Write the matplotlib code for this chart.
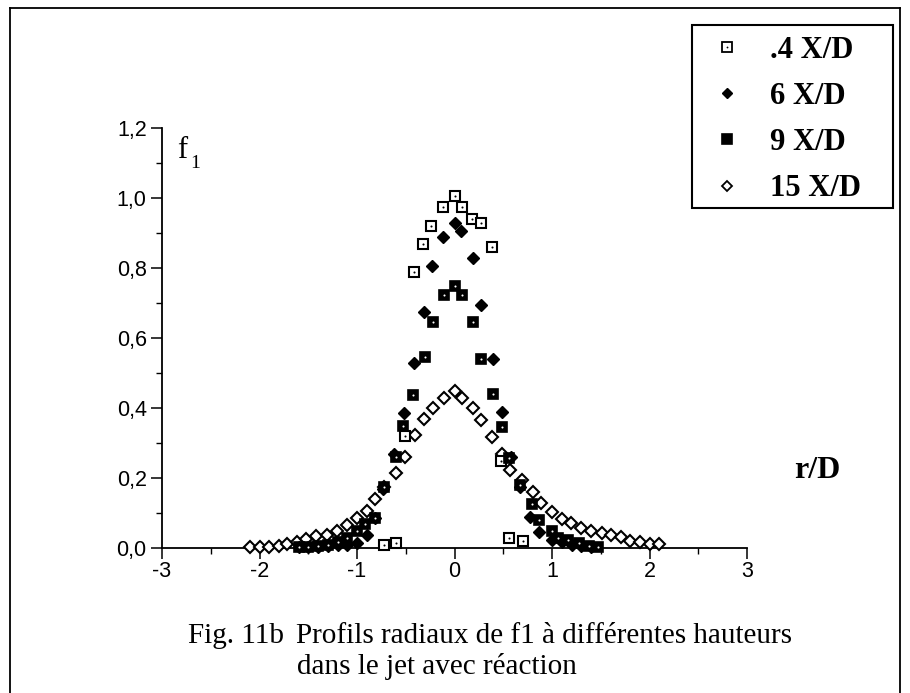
import matplotlib
matplotlib.use("Agg")
import matplotlib.pyplot as plt
from matplotlib.lines import Line2D
from matplotlib.patches import Rectangle
from matplotlib.ticker import MultipleLocator, FuncFormatter

# ---- data ----
x_04 = [-0.72, -0.60, -0.51, -0.42, -0.32, -0.24, -0.12, 0.00, 0.08, 0.18, 0.27, 0.38, 0.48, 0.56, 0.70]
y_04 = [0.010, 0.015, 0.320, 0.790, 0.870, 0.920, 0.975, 1.005, 0.975, 0.940, 0.930, 0.860, 0.250, 0.030, 0.020]

x_6 = [-1.60, -1.50, -1.40, -1.30, -1.20, -1.10, -1.00, -0.90, -0.82, -0.73, -0.62, -0.52, -0.42, -0.31, -0.23,
       -0.12, 0.00, 0.07, 0.19, 0.27, 0.39, 0.49, 0.58, 0.67, 0.77, 0.87, 1.00, 1.10, 1.20, 1.30, 1.40]
y_6 = [0.002, 0.003, 0.004, 0.006, 0.008, 0.010, 0.013, 0.037, 0.085, 0.170, 0.270, 0.385, 0.530, 0.675, 0.806,
       0.890, 0.930, 0.906, 0.830, 0.694, 0.540, 0.390, 0.260, 0.175, 0.090, 0.046, 0.023, 0.017, 0.010, 0.005, 0.003]

x_9 = [-1.60, -1.50, -1.40, -1.30, -1.20, -1.10, -1.00, -0.92, -0.82, -0.72, -0.60, -0.53, -0.43, -0.30, -0.22,
       -0.11, 0.00, 0.08, 0.19, 0.27, 0.39, 0.49, 0.56, 0.67, 0.79, 0.87, 1.00, 1.06, 1.16, 1.28, 1.38, 1.47]
y_9 = [0.003, 0.004, 0.006, 0.010, 0.016, 0.028, 0.050, 0.070, 0.085, 0.175, 0.260, 0.350, 0.437, 0.546, 0.645,
       0.723, 0.750, 0.723, 0.645, 0.540, 0.440, 0.345, 0.257, 0.180, 0.126, 0.080, 0.050, 0.030, 0.023, 0.014, 0.006, 0.004]

x_15 = [-2.10, -2.00, -1.90, -1.80, -1.72, -1.62, -1.52, -1.42, -1.31, -1.21, -1.10, -1.00, -0.90, -0.82, -0.72,
        -0.60, -0.51, -0.41, -0.31, -0.22, -0.11, 0.00, 0.08, 0.19, 0.27, 0.38, 0.49, 0.57, 0.69, 0.80, 0.89,
        1.00, 1.10, 1.19, 1.30, 1.40, 1.51, 1.61, 1.71, 1.80, 1.90, 2.00, 2.10]
y_15 = [0.003, 0.003, 0.003, 0.005, 0.012, 0.018, 0.026, 0.033, 0.038, 0.050, 0.066, 0.086, 0.105, 0.140, 0.175,
        0.214, 0.260, 0.323, 0.370, 0.400, 0.430, 0.448, 0.430, 0.400, 0.366, 0.317, 0.270, 0.223, 0.194, 0.160, 0.130,
        0.103, 0.083, 0.071, 0.057, 0.049, 0.043, 0.037, 0.031, 0.020, 0.017, 0.011, 0.011]

labels = [".4 X/D", "6 X/D", "9 X/D", "15 X/D"]
caption_fig = "Fig. 11b"
caption_1 = "Profils radiaux de f1 à différentes hauteurs"
caption_2 = "dans le jet avec réaction"

W, H = 910, 693
fig = plt.figure(figsize=(W / 100, H / 100), dpi=100)
fig.patch.set_facecolor("white")

def fx(px):
    return px / W

def fy(py):
    return 1 - py / H

ax = fig.add_axes([fx(162), fy(548), (747 - 162) / W, 420 / H])
ax.set_xlim(-3, 3)
ax.set_ylim(0, 1.2)
for s in ("top", "right"):
    ax.spines[s].set_visible(False)
for s in ("left", "bottom"):
    ax.spines[s].set_linewidth(1.3)

sq = 7.5
st04 = dict(ls="none", marker="s", mfc="white", mec="black", mew=1.5)
st04d = dict(ls="none", marker="o", mfc="black", mec="none")
st6 = dict(ls="none", marker="D", mfc="black", mec="black", mew=1.0)
st9 = dict(ls="none", marker="s", mfc="black", mec="black", mew=1.2)
st9d = dict(ls="none", marker="o", mfc="white", mec="none")
st15 = dict(ls="none", marker="D", mfc="white", mec="black", mew=1.5)

ax.plot(x_15, y_15, ms=6.5, clip_on=False, zorder=3, **st15)
ax.plot(x_04, y_04, ms=sq, clip_on=False, zorder=4, **st04)
ax.plot(x_04, y_04, ms=1.5, clip_on=False, zorder=5, **st04d)
ax.plot(x_9, y_9, ms=sq, clip_on=False, zorder=4, **st9)
ax.plot(x_9, y_9, ms=1.5, clip_on=False, zorder=5, **st9d)
ax.plot(x_6, y_6, ms=6.5, clip_on=False, zorder=4, **st6)

# ticks
ax.xaxis.set_major_locator(MultipleLocator(1))
ax.xaxis.set_minor_locator(MultipleLocator(0.5))
ax.yaxis.set_major_locator(MultipleLocator(0.2))
ax.yaxis.set_minor_locator(MultipleLocator(0.1))
ax.tick_params(axis="both", which="major", direction="out", length=8, width=1.1, labelsize=15.5)
ax.tick_params(axis="x", which="major", pad=1.5)
ax.tick_params(axis="y", which="major", pad=3)
ax.tick_params(axis="both", which="minor", direction="out", length=4.5, width=1.0)
ax.yaxis.set_major_formatter(FuncFormatter(lambda v, p: f"{v:.1f}".replace(".", ",")))
ax.xaxis.set_major_formatter(FuncFormatter(lambda v, p: f"{v:.0f}"))
for lab in ax.get_xticklabels() + ax.get_yticklabels():
    lab.set_fontfamily("Liberation Sans")

# axis labels
fig.text(fx(177), fy(151), "f", fontsize=22, family="Liberation Serif", ha="left", va="center")
fig.text(fx(190), fy(163), "1", fontsize=14, family="Liberation Serif", ha="left", va="center")
fig.text(fx(817), fy(470), "r/D", fontsize=23, family="Liberation Serif", weight="bold",
         ha="center", va="center")

# legend (drawn as a framed key)
fig.add_artist(Rectangle((fx(692), fy(208)), fx(893) - fx(692), fy(25) - fy(208),
                         transform=fig.transFigure, facecolor="white", edgecolor="black", lw=1.5))
rows = [47, 93, 139, 186]
keys = [[(st04, 6.5), (st04d, 1.3)], [(st6, 5.5)], [(st9, 6.5)], [(st15, 5.5)]]
for ry, lab, key in zip(rows, labels, keys):
    for st, ms in key:
        fig.add_artist(Line2D([fx(727)], [fy(ry)], ms=ms, transform=fig.transFigure,
                              **{**st, "mew": min(st.get("mew", 1.0), 1.3)}))
    fig.text(fx(770), fy(ry + 3), lab, fontsize=22, family="Liberation Serif", weight="bold",
             ha="left", va="center")

# caption
fig.text(fx(188), fy(636), caption_fig, fontsize=21, family="Liberation Serif", ha="left", va="center")
fig.text(fx(296), fy(636), caption_1, fontsize=21, family="Liberation Serif", ha="left", va="center")
fig.text(fx(297), fy(667), caption_2, fontsize=21, family="Liberation Serif", ha="left", va="center")

# outer frame
for (xa, ya, xb, yb) in [(10, 8, 900, 8), (10, 8, 10, 693), (900, 8, 900, 693)]:
    fig.add_artist(Line2D([fx(xa), fx(xb)], [fy(ya), fy(yb)], color="black", lw=1.3,
                          transform=fig.transFigure))

fig.savefig("out.png", dpi=100)
